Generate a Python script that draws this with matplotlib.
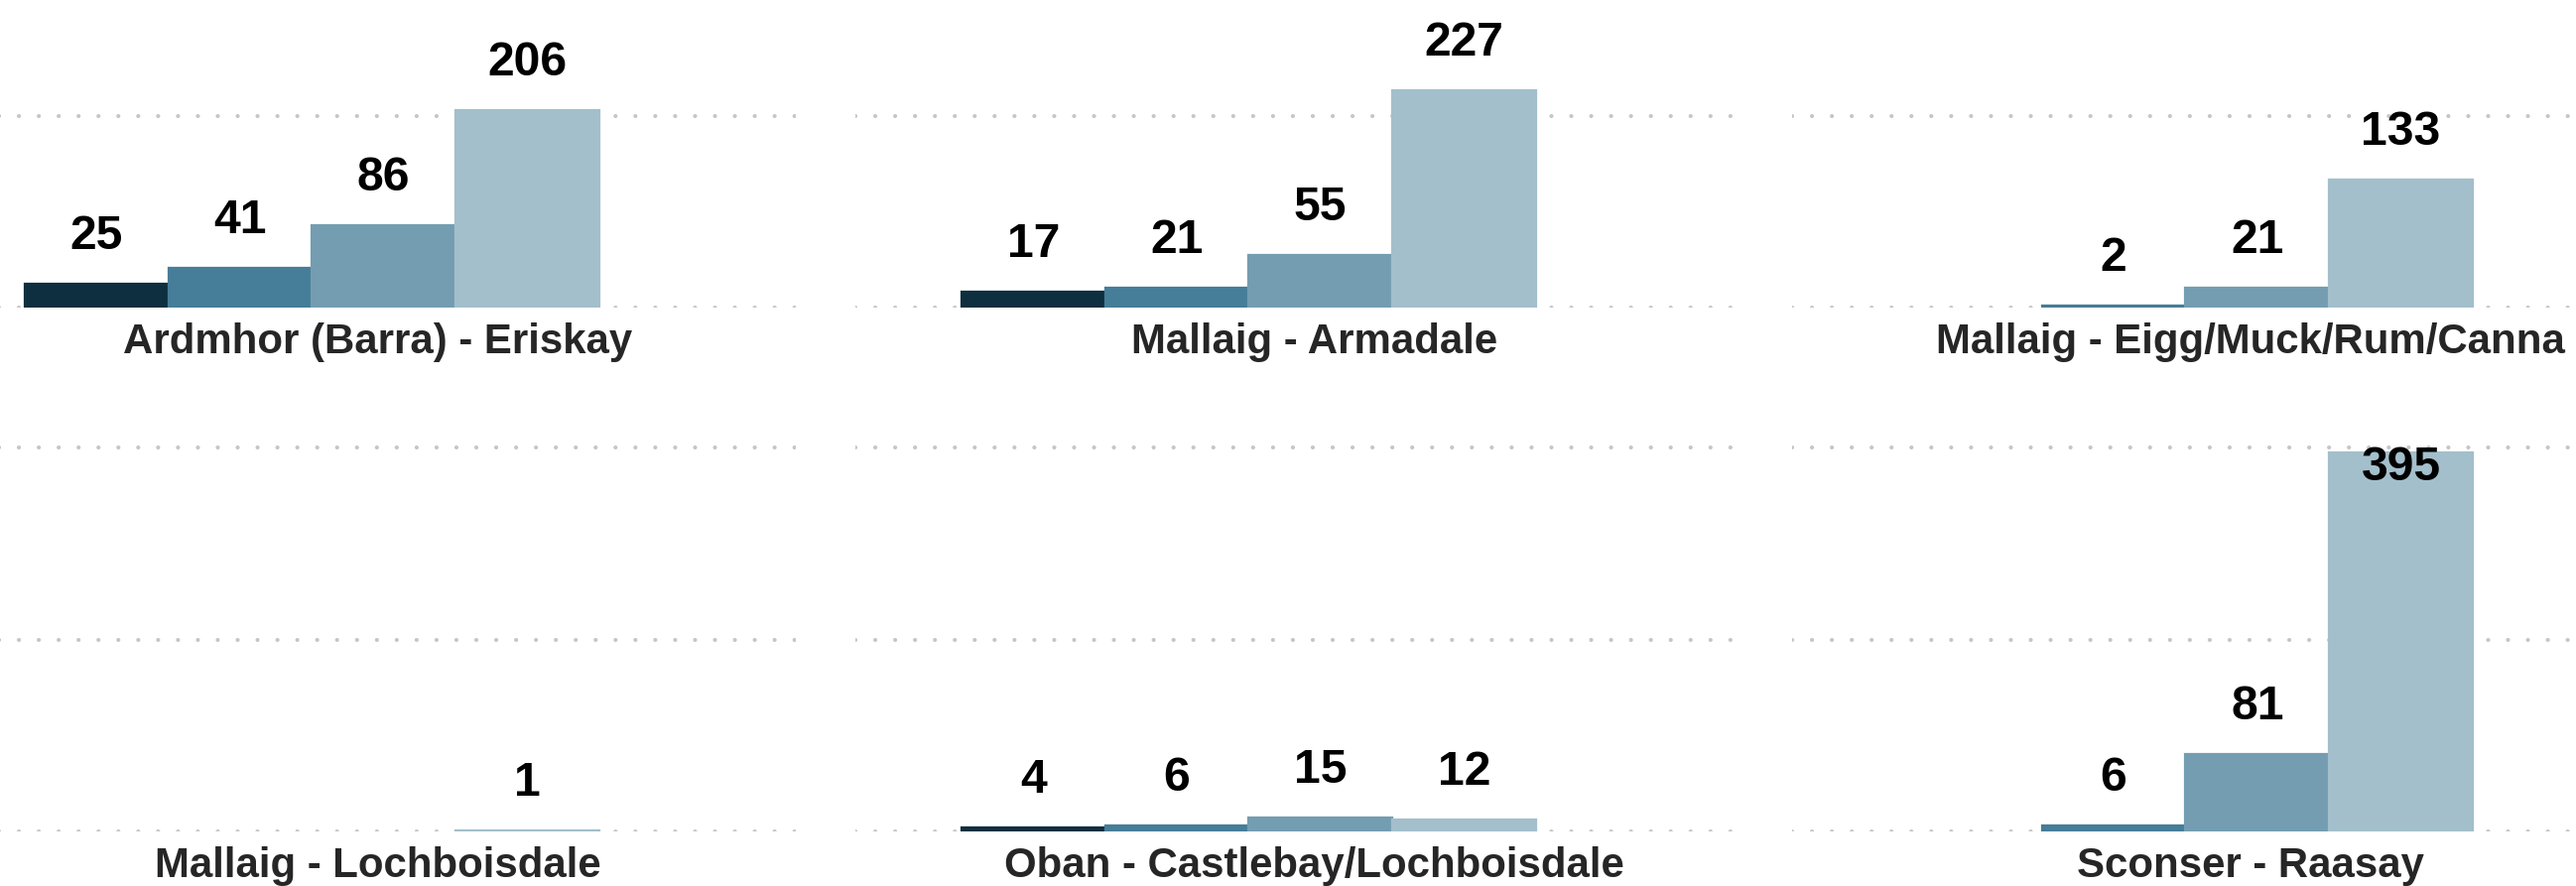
import matplotlib
matplotlib.use("Agg")
import matplotlib.pyplot as plt

# Ferry routes, one small panel each
routes = [
    "Ardmhor (Barra) - Eriskay",
    "Mallaig - Armadale",
    "Mallaig - Eigg/Muck/Rum/Canna",
    "Mallaig - Lochboisdale",
    "Oban - Castlebay/Lochboisdale",
    "Sconser - Raasay",
]

# One list per band, in route order (None = no bar)
band_1 = [25, 17, None, None, 4, None]
band_2 = [41, 21, 2, None, 6, 6]
band_3 = [86, 55, 21, None, 15, 81]
band_4 = [206, 227, 133, 1, 12, 395]

grid_values = [0, 200, 400]

BAND_COLORS = ["#0e2f3f", "#467d98", "#749db1", "#a3bfcb"]
GRID_COLOR = "#c6c6c6"
TITLE_COLOR = "#262626"

W, H, DPI = 2596, 893, 100
Y_MAX = 420
PX_PER_UNIT = 0.9665

# panel geometry in pixels
PANEL_LEFTS = [-82, 862, 1806]
PANEL_W = 884
ROW_BASES = [310, 838]  # y pixel of zero for top/bottom row
BAR_W_PX = 144.7
BAR_START = 107


def px_to_pt(px):
    return px * 72 / DPI


def main():
    plt.rcParams["font.family"] = ["Liberation Sans", "DejaVu Sans"]
    fig = plt.figure(figsize=(W / DPI, H / DPI), dpi=DPI)

    bands = [band_1, band_2, band_3, band_4]
    ax_h = Y_MAX * PX_PER_UNIT
    x_left = -0.5 - BAR_START / BAR_W_PX
    x_right = x_left + PANEL_W / BAR_W_PX

    for i, route in enumerate(routes):
        row, col = divmod(i, 3)
        left = PANEL_LEFTS[col] / W
        bottom = (H - ROW_BASES[row]) / H
        ax = fig.add_axes([left, bottom, PANEL_W / W, ax_h / H])
        ax.set_xlim(x_left, x_right)
        ax.set_ylim(0, Y_MAX)
        ax.set_axisbelow(True)

        for j, band in enumerate(bands):
            v = band[i]
            if v is None:
                continue
            # same-colour edge keeps the tiny bars (1, 2) visible
            ax.bar(j, v, width=1.0, color=BAND_COLORS[j],
                   edgecolor=BAND_COLORS[j], linewidth=1.6)
            # label above the bar, or tucked inside if it would run off the top
            if v + 70 > Y_MAX:
                off = -px_to_pt(28)
            else:
                off = px_to_pt(35)
            ax.annotate(str(v), xy=(j, v), xytext=(0, off),
                        textcoords="offset points", ha="center", va="baseline",
                        fontsize=px_to_pt(48), fontweight="bold", color="black")

        ax.set_yticks(grid_values)
        ax.grid(axis="y", color=GRID_COLOR, linewidth=3.0,
                linestyle=(0, (0.01, 14.4 / 3.0)), dash_capstyle="round")
        ax.grid(axis="x", visible=False)
        ax.tick_params(left=False, bottom=False, labelleft=False, labelbottom=False)
        for s in ax.spines.values():
            s.set_visible(False)

        ax.annotate(route, xy=(0.523, 0), xycoords="axes fraction",
                    xytext=(0, -px_to_pt(46)), textcoords="offset points",
                    ha="center", va="baseline", fontsize=px_to_pt(42),
                    fontweight="bold", color=TITLE_COLOR)

    fig.savefig("out.png", dpi=DPI)


if __name__ == "__main__":
    main()
